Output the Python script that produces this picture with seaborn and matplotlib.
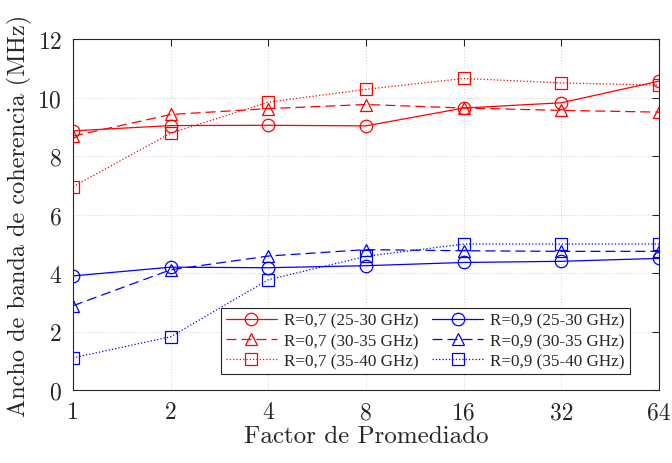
import matplotlib

matplotlib.use("Agg")

import matplotlib.pyplot as plt
import pandas as pd
import seaborn as sns


FACTORS = [1, 2, 4, 8, 16, 32, 64]

R07_25_30 = [8.86, 9.04, 9.05, 9.03, 9.64, 9.82, 10.56]
R07_30_35 = [8.68, 9.42, 9.62, 9.76, 9.64, 9.56, 9.50]
R07_35_40 = [6.95, 8.78, 9.84, 10.28, 10.65, 10.50, 10.42]
R09_25_30 = [3.90, 4.20, 4.18, 4.25, 4.36, 4.40, 4.50]
R09_30_35 = [2.88, 4.11, 4.58, 4.80, 4.76, 4.74, 4.74]
R09_35_40 = [1.10, 1.82, 3.77, 4.57, 4.99, 4.99, 4.99]

LABELS = [
    "R=0,7 (25-30 GHz)",
    "R=0,7 (30-35 GHz)",
    "R=0,7 (35-40 GHz)",
    "R=0,9 (25-30 GHz)",
    "R=0,9 (30-35 GHz)",
    "R=0,9 (35-40 GHz)",
]
SERIES = [R07_25_30, R07_30_35, R07_35_40, R09_25_30, R09_30_35, R09_35_40]
COLORS = ["red", "red", "red", "blue", "blue", "blue"]
STYLES = ["-", (0, (8, 4)), ":", "-", (0, (8, 4)), ":"]
MARKERS = ["o", "^", "s", "o", "^", "s"]

sns.set_style("white")
plt.rcParams["font.family"] = ["cmr10", "DejaVu Serif"]
plt.rcParams["axes.formatter.use_mathtext"] = True

fig = plt.figure(figsize=(6.72, 4.64), dpi=100)
ax = fig.add_axes([73 / 672, 1 - 391 / 464, 586 / 672, 351 / 464])

for label, values, color, ls, marker in zip(LABELS, SERIES, COLORS, STYLES, MARKERS):
    df = pd.DataFrame({"factor": FACTORS, "value": values})
    sns.lineplot(
        data=df, x="factor", y="value", ax=ax, color=color, label=label,
        linestyle=ls, linewidth=0.9, marker=marker, markersize=9,
        markerfacecolor="none", markeredgecolor=color, markeredgewidth=0.9,
    )

ax.set_xscale("log", base=2)
ax.set_xlim(1, 64)
ax.set_ylim(0, 12)
ax.set_xticks(FACTORS)
ax.set_xticklabels([str(f) for f in FACTORS])
ax.set_yticks(range(0, 13, 2))
ax.minorticks_off()
ax.grid(True, linestyle=(0, (1, 2)), color="#d0d0d0", linewidth=0.7)
ax.tick_params(direction="in", length=5, labelsize=17, top=True, right=True,
               width=0.8, color="#262626", labelcolor="#262626", pad=8)
for sp in ax.spines.values():
    sp.set_linewidth(0.8)
    sp.set_color("#262626")

ax.set_xlabel("Factor de Promediado", fontsize=18, color="#262626", labelpad=1)
ax.set_ylabel("Ancho de banda de coherencia (MHz)", fontsize=17.5, color="#262626", labelpad=4)

leg = ax.legend(
    ncol=2, loc="lower right", bbox_to_anchor=(0.965, 0.02),
    prop={"family": "Liberation Serif", "size": 12.3},
    frameon=True, fancybox=False, edgecolor="#262626", framealpha=1,
    handlelength=3.0, columnspacing=0.8, handletextpad=0.4,
    borderpad=0.3, labelspacing=0.25,
)
leg.get_frame().set_linewidth(0.8)

fig.savefig("out.png", dpi=100)
